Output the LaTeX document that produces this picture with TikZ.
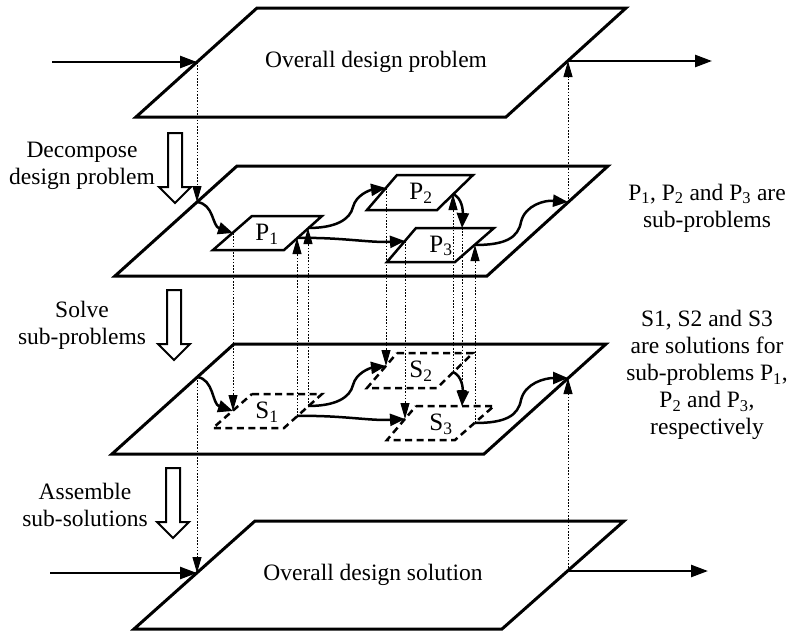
\documentclass[tikz,border=0pt]{standalone}
\usepackage{fontspec}
\setmainfont{Liberation Serif}
\usetikzlibrary{arrows.meta}
\begin{document}
\begin{tikzpicture}[x=1pt,y=-1pt,
  layer/.style={line width=3pt, line join=miter},
  subbox/.style={line width=2.5pt},
  subdash/.style={line width=2.5pt, dash pattern=on 7pt off 4.5pt},
  flow/.style={line width=2.5pt, -{Triangle[length=15pt,width=12pt]}},
  link/.style={line width=1pt, dash pattern=on 1.6pt off 1.6pt, -{Triangle[length=16pt,width=9pt]}},
  io/.style={line width=2.5pt, -{Triangle[length=17pt,width=12pt]}},
  lbl/.style={font=\fontsize{23.5}{27}\selectfont, align=center, inner sep=0pt},
  boxlbl/.style={font=\fontsize{25}{27}\selectfont, inner sep=0pt},
  hollow/.pic={\draw[line width=2pt, fill=white] (-7,-70) -- (7,-70) -- (7,-16) -- (16,-16) -- (0,0) -- (-16,-16) -- (-7,-16) -- cycle;}
]
\useasboundingbox (0,0) rectangle (792,632);

% layer corners
\coordinate (L0tl) at (257,8);   \coordinate (L0tr) at (626,8);
\coordinate (L0br) at (506,117); \coordinate (L0bl) at (136,117);
\coordinate (L2tl) at (237,166); \coordinate (L2tr) at (608,166);
\coordinate (L2br) at (487,276); \coordinate (L2bl) at (115,276);
\coordinate (L3tl) at (234,344); \coordinate (L3tr) at (606,344);
\coordinate (L3br) at (484,454); \coordinate (L3bl) at (112,454);
\coordinate (L4tl) at (255,521); \coordinate (L4tr) at (624,521);
\coordinate (L4br) at (502,629); \coordinate (L4bl) at (134,629);

\draw[layer] (L0tl) -- (L0tr) -- (L0br) -- (L0bl) -- cycle;
\draw[layer] (L2tl) -- (L2tr) -- (L2br) -- (L2bl) -- cycle;
\draw[layer] (L3tl) -- (L3tr) -- (L3br) -- (L3bl) -- cycle;
\draw[layer] (L4tl) -- (L4tr) -- (L4br) -- (L4bl) -- cycle;

% entry / exit points of the layers
\coordinate (in0) at (197,62);  \coordinate (out0) at (568,61);
\coordinate (in2) at (197,202); \coordinate (out2) at (568,202);
\coordinate (in3) at (197,377); \coordinate (out3) at (568,378);
\coordinate (in4) at (197,573); \coordinate (out4) at (568,571);
\coordinate (s0) at (52,62);    \coordinate (e0) at (712,61);
\coordinate (s4) at (50,573);   \coordinate (e4) at (708,571);

% sub-problem boxes
\draw[subbox] (252,216) -- (322,216) -- (284,250) -- (213,250) -- cycle;
\draw[subbox] (397,175) -- (473,175) -- (437,210) -- (367,210) -- cycle;
\draw[subbox] (416,228) -- (494,228) -- (455,262) -- (387,262) -- cycle;
% sub-solution boxes
\draw[subdash] (252,394) -- (322,394) -- (284,428) -- (213,428) -- cycle;
\draw[subdash] (397,353) -- (473,353) -- (437,388) -- (367,388) -- cycle;
\draw[subdash] (416,406) -- (494,406) -- (455,440) -- (387,440) -- cycle;

\node[boxlbl] (lp1) at (267,234) {P\textsubscript{1}};
\node[boxlbl] (lp2) at (421,193) {P\textsubscript{2}};
\node[boxlbl] (lp3) at (441,246) {P\textsubscript{3}};
\node[boxlbl] (ls1) at (267,412) {S\textsubscript{1}};
\node[boxlbl] (ls2) at (421,371) {S\textsubscript{2}};
\node[boxlbl] (ls3) at (441,424) {S\textsubscript{3}};

% points on the sub boxes
\coordinate (p1in) at (233,233);  \coordinate (s1in) at (233,411);
\coordinate (p1a) at (297,238);   \coordinate (s1a) at (297,416);
\coordinate (p1b) at (308,228);   \coordinate (s1b) at (308,406);
\coordinate (p2in) at (386,188);  \coordinate (s2in) at (386,366);
\coordinate (p2out) at (453,194); \coordinate (s2out) at (453,372);
\coordinate (p3in) at (405,241);  \coordinate (s3in) at (405,419);
\coordinate (p3top) at (462,228); \coordinate (s3top) at (462,406);
\coordinate (p3out) at (475,245); \coordinate (s3out) at (475,423);

% input / output arrows
\draw[io] (s0) -- (in0);
\draw[io] (out0) -- (e0);
\draw[io] (s4) -- (in4);
\draw[io] (out4) -- (e4);

% flows in layer 2
\draw[flow] (in2) .. controls (214,204) and (212,226) .. (p1in);
\draw[flow] (p1b) .. controls (335,228) and (350,220) .. (353,207) .. controls (356,195) and (370,190) .. (p2in);
\draw[flow] (p1a) .. controls (340,237) and (370,243) .. (p3in);
\draw[flow] (p2out) .. controls (462,198) and (463,210) .. (p3top);
\draw[flow] (p3out) .. controls (505,245) and (518,238) .. (521,222) .. controls (525,205) and (545,200) .. (out2);

% flows in layer 3
\draw[flow] (in3) .. controls (214,379) and (212,404) .. (s1in);
\draw[flow] (s1b) .. controls (335,406) and (350,398) .. (353,385) .. controls (356,373) and (370,368) .. (s2in);
\draw[flow] (s1a) .. controls (340,415) and (370,421) .. (s3in);
\draw[flow] (s2out) .. controls (462,376) and (463,388) .. (s3top);
\draw[flow] (s3out) .. controls (505,423) and (518,416) .. (521,400) .. controls (525,383) and (545,378) .. (out3);

% vertical dotted links
\draw[link] (in0) -- (in2);
\draw[link] (in3) -- (in4);
\draw[link] (out4) -- (out3);
\draw[link] (out2) -- (out0);
\draw[link] (p1in) -- (s1in);
\draw[link] (s1a) -- (p1a);
\draw[link] (s1b) -- (p1b);
\draw[link] (p2in) -- (s2in);
\draw[link] (s2out) -- (p2out);
\draw[link] (p3in) -- (s3in);
\draw[link] (p3top) -- (s3top);
\draw[link] (s3out) -- (p3out);

% hollow step arrows
\pic at (175,203) {hollow};
\pic at (174,360) {hollow};
\pic at (173,538) {hollow};

% texts
\node[lbl] (t0) at (376,62) {Overall design problem};
\node[lbl] (t4) at (373,575) {Overall design solution};
\node[lbl] (dec) at (82,166) {Decompose\\design problem};
\node[lbl] (sol) at (82,325) {Solve\\sub-problems};
\node[lbl] (asm) at (85,505) {Assemble\\sub-solutions};
\node[lbl] (np) at (707,208) {P\textsubscript{1}, P\textsubscript{2} and P\textsubscript{3} are\\sub-problems};
\node[lbl] (ns) at (707,375) {S1, S2 and S3\\are solutions for\\sub-problems P\textsubscript{1},\\P\textsubscript{2} and P\textsubscript{3},\\respectively};
\end{tikzpicture}
\end{document}
